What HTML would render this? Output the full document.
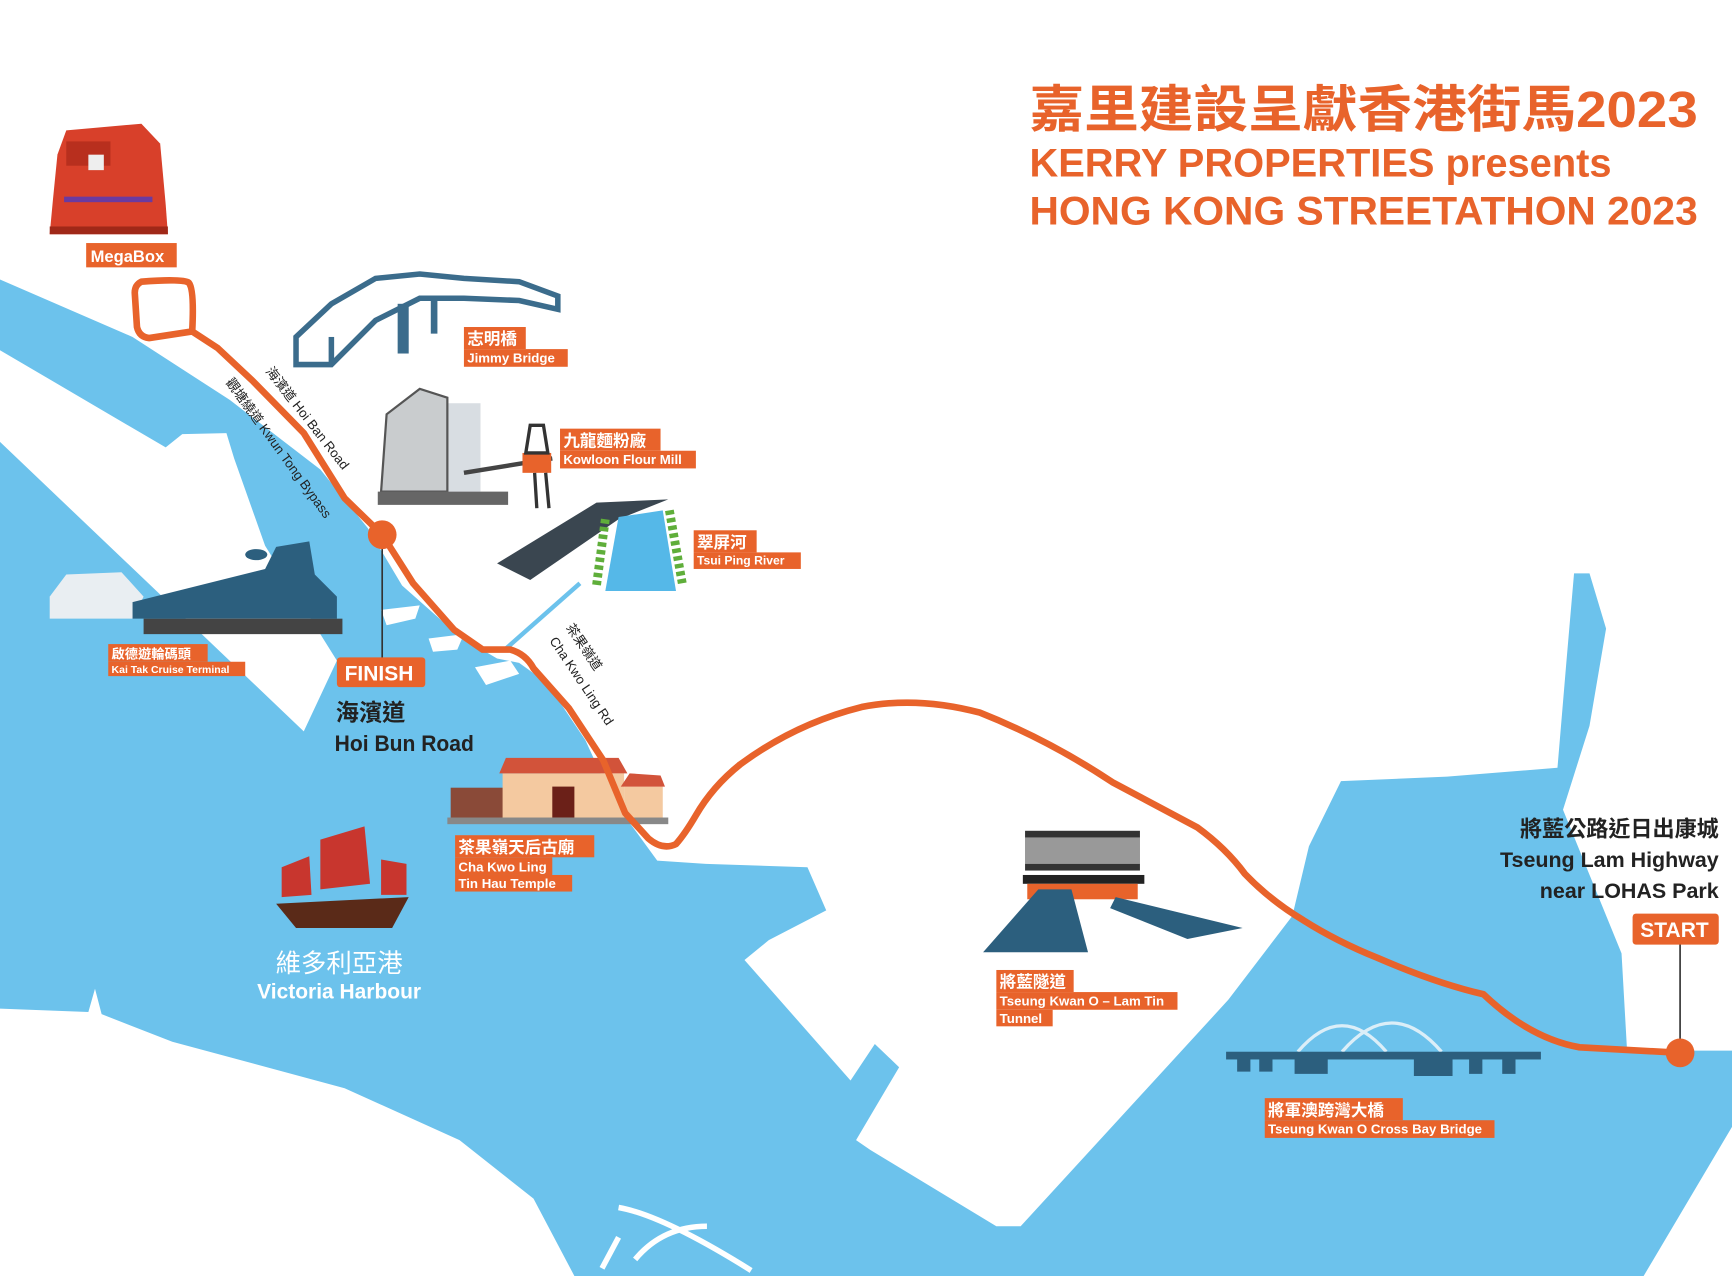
<!DOCTYPE html>
<html><head><meta charset="utf-8"><style>
html,body{margin:0;padding:0;background:#fff;}
svg{display:block;}
text{font-family:"Liberation Sans","Noto Sans CJK TC",sans-serif;}
</style></head><body>
<svg width="1732" height="1276" viewBox="0 0 1568 1155" preserveAspectRatio="none" xmlns="http://www.w3.org/2000/svg">
<rect width="1568" height="1155" fill="#fff"/>
<!-- water -->
<path fill="#6cc2ec" d="M0,253 L120,305 L208,362 L290,425 L333,478 L364,530 L416,576 L450,596 L470,600 L495,618 L530,670 L555,725 L568,742 L595,779 L639,782 L731,785 L748,824 L696,851 L674,869 L770,978 L792,945 L814,966 L775,1032 L788,1041 L902,1110 L924,1110 L1112,905 L1170,829 L1185,766 L1214,707 L1310,703 L1410,695 L1418,600 L1425,519 L1439,519 L1454,569 L1439,657 L1415,733 L1468,863 L1473,951 L1568,951 L1568,1020 L1488,1155 L0,1155 Z"/>
<!-- Kai Tak runway -->
<path fill="#fff" d="M0,317 L150,405 L165,393 L205,392 L212,415 L240,494 L305,598 L275,662 L0,400 Z"/>
<!-- piers near route -->
<path fill="#fff" d="M345,552 L380,548 L376,560 L350,566 Z M388,578 L420,574 L414,588 L392,590 Z M430,604 L462,598 L470,610 L440,620 Z"/>
<!-- HK island -->
<path fill="#fff" d="M0,913 L80,916 L86,895 L92,918 L156,943 L312,985 L416,1032 L483,1085 L520,1155 L0,1155 Z"/>
<path fill="none" stroke="#fff" stroke-width="5" d="M560,1093 Q600,1100 680,1150 M575,1140 Q600,1110 640,1110 M545,1148 L560,1120"/>
<line x1="457" y1="588" x2="525" y2="528" stroke="#6cc2ec" stroke-width="4"/>

<!-- MegaBox -->
<g>
<path d="M52,140 L60,118 L128,112 L145,130 L150,185 L152,212 L45,212 L48,180 Z" fill="#d8402a"/>
<rect x="60" y="128" width="40" height="22" fill="#b82f1e"/>
<rect x="80" y="140" width="14" height="14" fill="#eee"/>
<rect x="58" y="178" width="80" height="5" fill="#6a3aa0"/>
<rect x="45" y="205" width="107" height="7" fill="#a02818"/>
</g>
<!-- Jimmy bridge -->
<g fill="none" stroke="#3b6c8c" stroke-width="5">
<path d="M268,305 L268,330 L300,330 L340,290 L380,270 L420,270 L470,272 L505,280 L505,268 L470,255 L420,252 L380,248 L340,252 L300,275 Z"/>
<path d="M300,330 L300,305"/>
</g>
<rect x="360" y="275" width="10" height="45" fill="#3b6c8c"/>
<rect x="390" y="272" width="6" height="30" fill="#3b6c8c"/>
<!-- Flour mill -->
<g>
<rect x="395" y="365" width="40" height="80" fill="#d8dde2"/>
<path d="M345,445 L350,375 L380,352 L405,360 L405,445 Z" fill="#c9ccce" stroke="#555" stroke-width="2"/>
<rect x="342" y="445" width="118" height="12" fill="#666"/>
<path d="M420,428 L500,415" stroke="#444" stroke-width="4"/>
<rect x="473" y="410" width="26" height="18" fill="#e8632b"/>
<path d="M480,385 L492,385 L496,410 L476,410 Z M484,428 L486,460 M494,428 L497,460" stroke="#333" stroke-width="3" fill="none"/>
</g>
<!-- Tsui Ping River -->
<path d="M450,510 L540,455 L605,452 L560,470 L480,525 Z" fill="#3a4650"/>
<path d="M560,468 L600,462 L612,535 L548,535 Z" fill="#55b8e8"/>
<path d="M548,470 L540,530 M606,462 L618,530" stroke="#5fae3a" stroke-width="8" stroke-dasharray="4,3"/>
<!-- Cruise terminal -->
<g>
<path d="M45,540 L60,520 L110,518 L130,540 L120,560 L45,560 Z" fill="#e9eef2"/>
<path d="M120,545 L200,525 L240,515 L250,495 L280,490 L285,520 L305,540 L305,560 L120,560 Z" fill="#2c5f7e"/>
<ellipse cx="232" cy="502" rx="10" ry="5" fill="#2c5f7e"/>
<rect x="130" y="560" width="180" height="14" fill="#444"/>
</g>
<!-- Temple -->
<g>
<rect x="408" y="713" width="48" height="32" fill="#8a4a38"/>
<rect x="455" y="700" width="110" height="42" fill="#f4c9a0"/>
<path d="M452,700 L458,686 L560,686 L568,700 Z" fill="#d2533a"/>
<rect x="565" y="712" width="35" height="30" fill="#f4c9a0"/>
<path d="M562,712 L570,700 L598,702 L602,712 Z" fill="#d2533a"/>
<rect x="500" y="712" width="20" height="28" fill="#6b2018"/>
<rect x="405" y="740" width="200" height="6" fill="#888"/>
</g>
<!-- Junk -->
<g>
<path d="M290,760 L330,748 L335,800 L290,805 Z" fill="#c8362e"/>
<path d="M255,785 L280,775 L282,810 L255,812 Z" fill="#c8362e"/>
<path d="M345,778 L368,782 L368,810 L345,810 Z" fill="#c8362e"/>
<path d="M250,818 L370,812 L355,840 L268,840 Z" fill="#5a2a18"/>
</g>
<!-- Tunnel -->
<g>
<rect x="928" y="752" width="104" height="36" fill="#333"/>
<rect x="928" y="758" width="104" height="24" fill="#fff" opacity="0.5"/>
<rect x="926" y="792" width="110" height="8" fill="#222"/>
<rect x="930" y="800" width="100" height="14" fill="#e8632b"/>
<path d="M890,862 L940,805 L970,805 L985,862 Z M1010,812 L1125,840 L1075,850 L1005,822 Z" fill="#2c5f7e"/>
</g>
<!-- Cross bay bridge -->
<g>
<path d="M1175,952 Q1215,905 1255,952 M1215,952 Q1260,900 1305,952" fill="none" stroke="#dbeef8" stroke-width="3"/>
<rect x="1110" y="952" width="285" height="7" fill="#2c5f7e"/>
<path d="M1120,958 h12 v12 h-12 Z M1140,958 h12 v12 h-12 Z M1172,958 h30 v14 h-30 Z M1280,958 h35 v16 h-35 Z M1330,958 h12 v14 h-12 Z M1360,958 h12 v14 h-12 Z" fill="#2c5f7e"/>
</g>

<!-- route -->
<path fill="none" stroke="#e8632b" stroke-width="6" stroke-linejoin="round" stroke-linecap="round"
d="M174,300 Q176,262 171,256 Q166,252 128,255 Q122,258 122,265 L124,296 Q126,305 135,306 L174,300 L197,315 L229,345 L275,392 L312,451 L346,484 L374,528 L411,570 L437,588 L462,588 Q476,592 483,605 L515,641 L546,688 L566,736 L587,759 Q600,770 612,764 Q620,755 630,738 Q645,712 670,692 Q720,655 780,640 Q830,630 887,645 Q950,670 1007,708 L1084,749 Q1110,768 1127,791 Q1150,815 1180,833 Q1210,852 1247,867 Q1300,890 1343,900 Q1385,940 1430,948 L1521,953"/>
<line x1="346" y1="484" x2="346" y2="597" stroke="#333" stroke-width="1.5"/>
<circle cx="346" cy="484" r="13" fill="#e8632b"/>
<line x1="1521" y1="953" x2="1521" y2="852" stroke="#333" stroke-width="1.5"/>
<circle cx="1521" cy="953" r="13" fill="#e8632b"/>

<!-- road labels -->
<g font-size="12" fill="#222">
<text transform="translate(240,336) rotate(52)">海濱道  Hoi Ban Road</text>
<text transform="translate(204,346) rotate(54)">觀塘繞道  Kwun Tong Bypass</text>
<text transform="translate(497,580) rotate(56)">Cha Kwo Ling Rd</text>
<text transform="translate(512,568) rotate(56)">茶果嶺道</text>
</g>

<!-- orange labels -->
<g fill="#e8632b">
<rect x="78" y="220" width="82" height="22"/>
<rect x="420" y="296" width="56" height="20"/><rect x="420" y="316" width="94" height="16"/>
<rect x="507" y="388" width="91" height="20"/><rect x="507" y="408" width="123" height="16"/>
<rect x="628" y="480" width="57" height="20"/><rect x="628" y="500" width="97" height="15"/>
<rect x="98" y="583" width="90" height="16"/><rect x="98" y="599" width="124" height="13"/>
<rect x="305" y="595" width="80" height="27" rx="3"/>
<rect x="412" y="756" width="126" height="20"/><rect x="412" y="776" width="88" height="16"/><rect x="412" y="792" width="106" height="15"/>
<rect x="902" y="878" width="70" height="20"/><rect x="902" y="898" width="164" height="16"/><rect x="902" y="914" width="51" height="15"/>
<rect x="1145" y="994" width="125" height="20"/><rect x="1145" y="1014" width="208" height="16"/>
<rect x="1478" y="827" width="78" height="28" rx="3"/>
</g>
<g fill="#fff" font-weight="bold">
<text x="82" y="237" font-size="15">MegaBox</text>
<text x="423" y="312" font-size="15">志明橋</text><text x="423" y="328" font-size="12">Jimmy Bridge</text>
<text x="510" y="404" font-size="15">九龍麵粉廠</text><text x="510" y="420" font-size="12">Kowloon Flour Mill</text>
<text x="631" y="496" font-size="15">翠屏河</text><text x="631" y="511" font-size="11">Tsui Ping River</text>
<text x="101" y="596" font-size="12">啟德遊輪碼頭</text><text x="101" y="609" font-size="9.5">Kai Tak Cruise Terminal</text>
<text x="312" y="616" font-size="19">FINISH</text>
<text x="415" y="772" font-size="15">茶果嶺天后古廟</text><text x="415" y="789" font-size="12">Cha Kwo Ling</text><text x="415" y="804" font-size="12">Tin Hau Temple</text>
<text x="905" y="894" font-size="15">將藍隧道</text><text x="905" y="910" font-size="12">Tseung Kwan O – Lam Tin</text><text x="905" y="926" font-size="12">Tunnel</text>
<text x="1148" y="1010" font-size="15">將軍澳跨灣大橋</text><text x="1148" y="1026" font-size="12">Tseung Kwan O Cross Bay Bridge</text>
<text x="1485" y="848" font-size="19">START</text>
</g>
<g fill="#222" font-weight="bold">
<text x="304" y="652" font-size="21">海濱道</text>
<text x="303" y="680" font-size="20" textLength="126" lengthAdjust="spacingAndGlyphs">Hoi Bun Road</text>
<text x="1556" y="757" font-size="20" text-anchor="end">將藍公路近日出康城</text>
<text x="1358" y="785" font-size="19" textLength="198" lengthAdjust="spacingAndGlyphs">Tseung Lam Highway</text>
<text x="1394" y="813" font-size="19" textLength="162" lengthAdjust="spacingAndGlyphs">near LOHAS Park</text>
</g>
<g fill="#fff" text-anchor="middle">
<text x="307" y="880" font-size="23">維多利亞港</text>
<text x="307" y="904" font-size="19" font-weight="bold">Victoria Harbour</text>
</g>
<!-- title -->
<g fill="#e8632b" font-weight="bold">
<text x="932" y="115" font-size="46" textLength="605" lengthAdjust="spacingAndGlyphs">嘉里建設呈獻香港街馬2023</text>
<text x="932" y="160" font-size="36" textLength="527" lengthAdjust="spacingAndGlyphs">KERRY PROPERTIES presents</text>
<text x="932" y="203" font-size="36" textLength="605" lengthAdjust="spacingAndGlyphs">HONG KONG STREETATHON 2023</text>
</g>
</svg>
</body></html>
